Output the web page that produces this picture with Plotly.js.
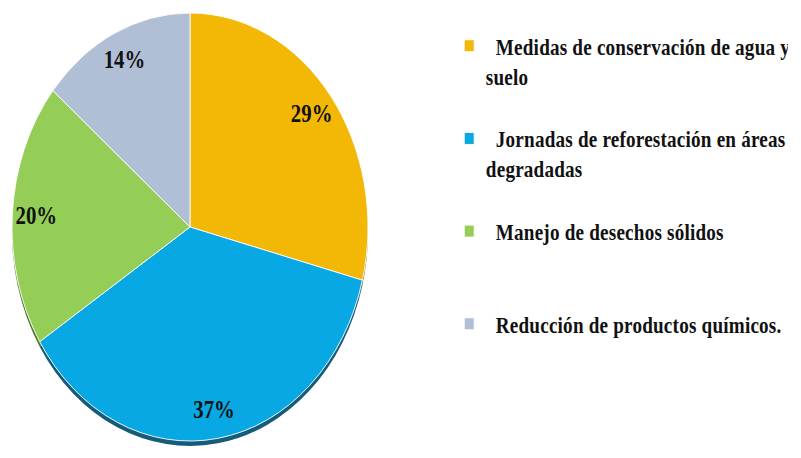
<!DOCTYPE html>
<html>
<head>
<meta charset="utf-8">
<script src="https://cdn.plot.ly/plotly-3.0.1.min.js"></script>
<style>
  html, body { margin: 0; padding: 0; background: #ffffff; overflow: hidden; }
  #wrap { width: 801px; height: 458px; overflow: hidden; }
  #chart { width: 963px; height: 458px; transform: scaleX(0.8318); transform-origin: 0 0; }
  #chart .legendtext { letter-spacing: 0.25px; }
</style>
</head>
<body>
<div id="wrap"><div id="chart"></div></div>
<script>
// ---- data ----
const categoryLines = [
  ["Medidas de conservación de agua y", "suelo"],
  ["Jornadas de reforestación en áreas", "degradadas"],
  ["Manejo de desechos sólidos"],
  ["Reducción de productos químicos."]
];
const values = [29, 37, 20, 14];
const sliceColors = ["#F3B706", "#07A8E3", "#94CE57", "#B0BFD6"];
const shadowColors = ["#8a6a05", "#155C7B", "#4f7a2a", "#6b7890"];

// legend text: indent first line, pad entries to equal height
const NB = "\u00a0";
const labels = categoryLines.map((lines, i) => {
  const parts = [NB + NB + lines[0]].concat(lines.slice(1));
  if (i < categoryLines.length - 1) { while (parts.length < 3) parts.push(NB); }
  return parts.join("<br>");
});

const serif = "'Liberation Serif', 'Times New Roman', serif";

const domainX = [0.01496, 0.45940];
const shadow = {
  type: "pie", labels: labels, values: values, sort: false, direction: "clockwise", rotation: 0,
  marker: { colors: shadowColors, line: { width: 0 } },
  textinfo: "none", hoverinfo: "none", showlegend: false,
  domain: { x: domainX, y: [0.0262, 0.9607] }
};
const base = {
  type: "pie", labels: labels, values: values, sort: false, direction: "clockwise", rotation: 0,
  marker: { colors: sliceColors, line: { color: "#ffffff", width: 1 } },
  textinfo: "none", hoverinfo: "none", showlegend: true,
  domain: { x: domainX, y: [0.03712, 0.97162] }
};
const textRing = {
  type: "pie", labels: labels, values: values, sort: false, direction: "clockwise", rotation: 0,
  hole: 0.73,
  marker: { colors: ["rgba(0,0,0,0)", "rgba(0,0,0,0)", "rgba(0,0,0,0)", "rgba(0,0,0,0)"], line: { width: 0 } },
  textinfo: "percent", textposition: "inside", insidetextorientation: "horizontal",
  textfont: { family: serif, size: 25, color: "#111111", weight: "bold" },
  hoverinfo: "none", showlegend: false,
  domain: { x: domainX, y: [0.03712, 0.97162] }
};

const layout = {
  width: 963, height: 458,
  margin: { l: 0, r: 0, t: 0, b: 0 },
  paper_bgcolor: "#ffffff",
  showlegend: true,
  legend: {
    x: 0.565, xanchor: "left", y: 0.947, yanchor: "top",
    valign: "top",
    font: { family: serif, size: 23, color: "#111111", weight: "bold" },
    bgcolor: "rgba(0,0,0,0)", traceorder: "normal"
  }
};

Plotly.newPlot("chart", [shadow, base, textRing], layout, { staticPlot: true, displayModeBar: false });
</script>
</body>
</html>
